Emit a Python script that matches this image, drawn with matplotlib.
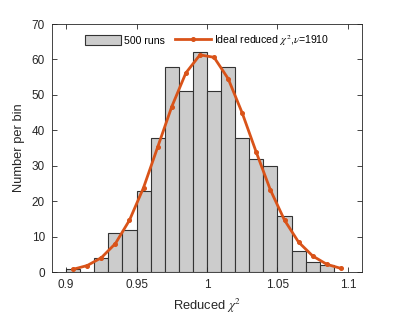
import matplotlib
matplotlib.use("Agg")
import matplotlib.pyplot as plt
import numpy as np

# histogram of 500 runs, bins of width 0.01 starting at 0.90
bin_edges = [0.90, 0.91, 0.92, 0.93, 0.94, 0.95, 0.96, 0.97, 0.98, 0.99, 1.00,
             1.01, 1.02, 1.03, 1.04, 1.05, 1.06, 1.07, 1.08, 1.09]
counts = [1, 0, 4, 11, 12, 23, 38, 58, 51, 62, 51, 58, 38, 32, 30, 16, 6, 3, 2]

# ideal reduced chi^2 curve, evaluated at bin centres
ideal_x = [0.905, 0.915, 0.925, 0.935, 0.945, 0.955, 0.965, 0.975, 0.985, 0.995,
           1.005, 1.015, 1.025, 1.035, 1.045, 1.055, 1.065, 1.075, 1.085, 1.095]
ideal_y = [0.85, 1.9, 4.1, 8.1, 14.7, 23.9, 35.3, 46.7, 56.2, 61.3,
           60.6, 54.6, 44.9, 33.8, 23.2, 14.7, 8.5, 4.6, 2.25, 1.1]

plt.rcParams['font.family'] = ['Liberation Sans', 'DejaVu Sans']
plt.rcParams['mathtext.fontset'] = 'stix'

DARK = '#262626'

fig = plt.figure(figsize=(3.99, 3.15), dpi=100)
ax = fig.add_axes([0.1303, 0.1356, 0.777, 0.7882])

bars = ax.bar(bin_edges[:-1], counts, width=0.01, align='edge',
              color='#cccccc', edgecolor='#333333', linewidth=0.8)
line, = ax.plot(ideal_x, ideal_y, color='#D95319', linewidth=2, marker='o',
                markersize=2.6)

ax.set_xlim(0.89, 1.11)
ax.set_ylim(0, 70)
ax.set_xticks([0.9, 0.95, 1.0, 1.05, 1.1])
ax.set_xticklabels(['0.9', '0.95', '1', '1.05', '1.1'])
ax.set_yticks(range(0, 80, 10))

ax.tick_params(direction='in', top=True, right=True, length=3.5, width=0.6,
               colors=DARK, labelsize=8.5, pad=5)
for s in ax.spines.values():
    s.set_color(DARK)
    s.set_linewidth(0.6)

ax.set_xlabel('Reduced $\\chi^2$', fontsize=9.3, color=DARK, labelpad=4)
ax.set_ylabel('Number per bin', fontsize=9.3, color=DARK, labelpad=5)

ax.legend([bars, line], ['500 runs', 'Ideal reduced $\\chi^2$,$\\nu$=1910'],
          loc='upper center', ncol=2, frameon=False, fontsize=7.6,
          handlelength=3.4, handleheight=1.1, columnspacing=1.0,
          handletextpad=0.3, bbox_to_anchor=(0.5, 0.995), borderaxespad=0.3)

fig.savefig('out.png', dpi=100)
